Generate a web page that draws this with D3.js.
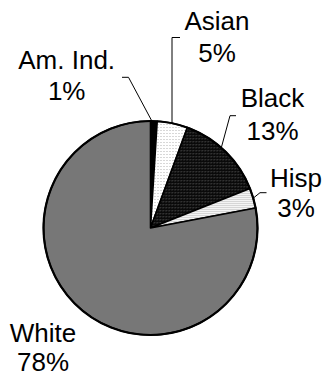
<!DOCTYPE html>
<html><head><meta charset="utf-8">
<script src="https://cdn.jsdelivr.net/npm/d3@7/dist/d3.min.js"></script>
<style>html,body{margin:0;padding:0;background:#fff;}svg{display:block;}</style>
</head><body>
<svg id="chart" width="324" height="377"></svg>
<script>
const categories = ["Am. Ind.", "Asian", "Black", "Hisp", "White"];
const values = [1.0, 4.6, 13.4, 3.0, 78.0];
const valueLabels = ["1%", "5%", "13%", "3%", "78%"];

const W = 324, H = 377;
const cx = 150.5, cy = 228, R = 107;
const svg = d3.select("#chart");
const defs = svg.append("defs");

function pat(id, size, bg, pixels) {
  const p = defs.append("pattern").attr("id", id).attr("patternUnits", "userSpaceOnUse")
    .attr("width", size).attr("height", size);
  p.append("rect").attr("width", size).attr("height", size).attr("fill", bg).attr("shape-rendering", "crispEdges");
  pixels.forEach(([x, y, c]) => p.append("rect").attr("x", x).attr("y", y).attr("width", 1).attr("height", 1).attr("fill", c).attr("shape-rendering", "crispEdges"));
}
pat("pAm", 2, "#000", []);
pat("pAsian", 3, "#fff", [[1, 1, "#b0b0b0"]]);
pat("pBlack", 3, "#0a0a0a", [[0, 0, "#3a3a3a"], [1, 0, "#2a2a2a"], [0, 1, "#2a2a2a"]]);
pat("pHisp", 2, "#f4f4f4", [[1, 1, "#b8b8b8"]]);
pat("pWhite", 2, "#868686", [[0, 0, "#686868"], [1, 1, "#686868"]]);
const fills = ["url(#pAm)", "url(#pAsian)", "url(#pBlack)", "url(#pHisp)", "url(#pWhite)"];

const pie = d3.pie().sort(null).value(d => d)(values);
const arc = d3.arc().innerRadius(0).outerRadius(R);

const g = svg.append("g").attr("transform", `translate(${cx},${cy})`);
g.selectAll("path.slice").data(pie).enter().append("path")
  .attr("class", "slice")
  .attr("d", arc)
  .attr("fill", (d, i) => fills[i])
  .attr("stroke", "#000").attr("stroke-width", 1.6).attr("stroke-linejoin", "round");
g.append("circle").attr("r", R).attr("fill", "none").attr("stroke", "#000").attr("stroke-width", 2.2);

const mid = d => (d.startAngle + d.endAngle) / 2;
const edge = (a, r) => [Math.sin(a) * r, -Math.cos(a) * r];
const leaders = [
  { i: 0, ang: d => d.startAngle + (d.endAngle - d.startAngle) * 0.2, pts: [[128.5, 77.3], [122, 77.3]] },
  { i: 1, ang: d => Math.asin((172 - cx) / R), pts: [[172, 37.5], [180, 37.5]] },
  { i: 2, ang: d => mid(d) - 0.05, pts: [[230, 115.7], [236, 115.7]] },
  { i: 3, ang: d => mid(d), pts: [[260, 192.7], [266.5, 192.7]] }
];
const line = d3.line();
leaders.forEach(l => {
  const d = pie[l.i];
  const e = edge(l.ang(d), R);
  const pts = [[cx + e[0], cy + e[1]]].concat(l.pts);
  svg.append("path").attr("d", line(pts)).attr("fill", "none").attr("stroke", "#000").attr("stroke-width", 1);
});

const labelPos = [
  { x: 66.7, y1: 69.3, y2: 100.3 },
  { x: 217, y1: 29.5, y2: 61.5 },
  { x: 272.5, y1: 107, y2: 139.5 },
  { x: 296, y1: 186.7, y2: 217 },
  { x: 43, y1: 341.5, y2: 371 }
];
categories.forEach((c, i) => {
  const p = labelPos[i];
  const t = svg.append("text").attr("text-anchor", "middle")
    .attr("font-family", "Liberation Sans, Arial, sans-serif").attr("font-size", 26).attr("fill", "#000");
  t.append("tspan").attr("x", p.x).attr("y", p.y1).text(c);
  t.append("tspan").attr("x", p.x).attr("y", p.y2).text(valueLabels[i]);
});
</script>
</body></html>
